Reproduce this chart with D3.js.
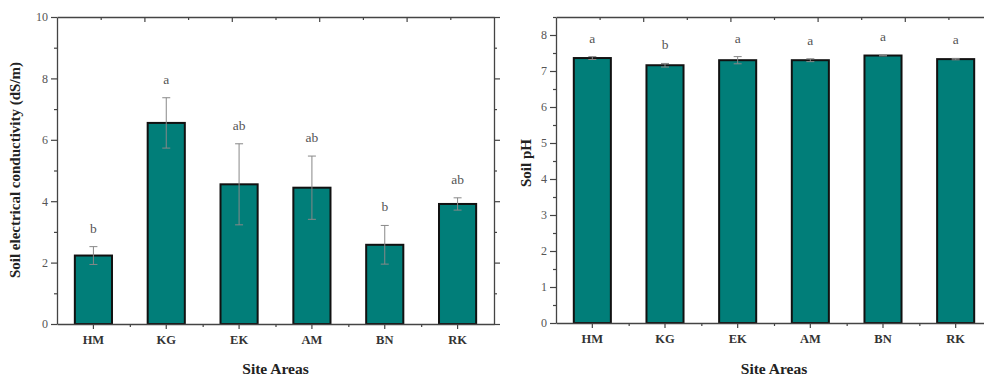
<html>
<head>
<script src="https://cdnjs.cloudflare.com/ajax/libs/d3/7.2.1/d3.min.js"></script>
<style>
  body { margin: 0; background: #fff; }
  text { font-family: "Liberation Serif", "Times New Roman", serif; }
</style>
</head>
<body>
<div class="chart"></div>
<script>
const width = 984;
const height = 377;

// data
const sites = ["HM", "KG", "EK", "AM", "BN", "RK"];
const ecMean = [2.23, 6.55, 4.55, 4.44, 2.58, 3.91];
const ecErr = [0.29, 0.82, 1.32, 1.03, 0.63, 0.2];
const ecLetters = ["b", "a", "ab", "ab", "b", "ab"];
const phMean = [7.36, 7.16, 7.30, 7.30, 7.43, 7.33];
const phErr = [0.04, 0.05, 0.1, 0.04, 0.01, 0.02];
const phLetters = ["a", "b", "a", "a", "a", "a"];
const ecTicks = [0, 2, 4, 6, 8, 10];
const phTicks = [0, 1, 2, 3, 4, 5, 6, 7, 8];

const svg = d3.select(".chart").append("svg")
  .attr("width", width).attr("height", height);

function drawPanel(opt) {
  const x = d3.scaleBand().domain(sites).range([opt.left, opt.right]).paddingInner(0.49).paddingOuter(0.245);
  const y = d3.scaleLinear().domain(opt.yDomain).range([opt.bottom, opt.top]);
  const g = svg.append("g");
  const cx = d => x(d) + x.bandwidth() / 2;

  // bars
  g.selectAll("rect.bar")
    .data(sites)
    .enter().append("rect")
    .attr("class", "bar")
    .attr("x", d => x(d))
    .attr("width", x.bandwidth())
    .attr("y", (d, i) => y(opt.mean[i]))
    .attr("height", (d, i) => y(0) - y(opt.mean[i]))
    .attr("fill", "#017e79")
    .attr("stroke", "#111")
    .attr("stroke-width", 2);

  // error bars
  const eb = g.selectAll("g.err").data(sites).enter().append("g")
    .attr("stroke", "#888").attr("stroke-width", 1);
  eb.append("line")
    .attr("x1", cx).attr("x2", cx)
    .attr("y1", (d, i) => y(opt.mean[i] - opt.err[i]))
    .attr("y2", (d, i) => y(opt.mean[i] + opt.err[i]));
  [1, -1].forEach(s => {
    eb.append("line")
      .attr("x1", d => cx(d) - 4).attr("x2", d => cx(d) + 4)
      .attr("y1", (d, i) => y(opt.mean[i] + s * opt.err[i]))
      .attr("y2", (d, i) => y(opt.mean[i] + s * opt.err[i]));
  });

  // significance letters
  g.selectAll("text.letter").data(sites).enter().append("text")
    .attr("x", cx)
    .attr("y", (d, i) => y(opt.mean[i] + opt.err[i]) - 14)
    .attr("text-anchor", "middle")
    .attr("font-size", 13.5)
    .attr("fill", "#555")
    .text((d, i) => opt.letters[i]);

  // left axis (major labelled, minor between)
  const minorY = d3.range(opt.yDomain[0], opt.yDomain[1] + 1e-9, opt.minorStep)
    .filter(v => !opt.ticks.some(t => Math.abs(t - v) < 1e-9));
  const left = g.append("g").attr("transform", `translate(${opt.left},0)`)
    .call(d3.axisLeft(y).tickValues(opt.ticks).tickSize(6).tickPadding(3).tickSizeOuter(0));
  left.append("g").attr("class", "minor")
    .call(d3.axisLeft(y).tickValues(minorY).tickSize(3).tickFormat(""));

  // right mirror axis
  const right = g.append("g").attr("transform", `translate(${opt.right},0)`)
    .call(d3.axisLeft(y).tickValues(opt.ticks).tickSize(-6).tickFormat("").tickSizeOuter(0));
  right.append("g").attr("class", "minor")
    .call(d3.axisLeft(y).tickValues(minorY).tickSize(-3).tickFormat(""));

  // bottom axis: categories with minor ticks at band edges
  const edges = d3.range(1, sites.length).map(i => opt.left + i * (opt.right - opt.left) / sites.length);
  const bottom = g.append("g").attr("transform", `translate(0,${opt.bottom})`)
    .call(d3.axisBottom(x).tickSize(5).tickPadding(6).tickSizeOuter(0));
  bottom.append("g").attr("class", "minor")
    .call(d3.axisBottom(d3.scaleIdentity()).tickValues(edges).tickSize(3).tickFormat(""));

  // top mirror axis, own linear scale
  const xt = d3.scaleLinear().domain([0, 5]).range([opt.left, opt.right]);
  const top = g.append("g").attr("transform", `translate(0,${opt.top})`)
    .call(d3.axisTop(xt).tickValues([1, 2, 3, 4]).tickSize(-5).tickFormat("").tickSizeOuter(0));
  top.append("g").attr("class", "minor")
    .call(d3.axisTop(xt).tickValues([0.5, 1.5, 2.5, 3.5, 4.5]).tickSize(-3).tickFormat(""));

  g.selectAll(".minor .domain").remove();
  g.selectAll(".domain").attr("stroke", "#444").attr("stroke-width", 1.3);
  g.selectAll(".tick line").attr("stroke", "#444").attr("stroke-width", 1.2);
  left.selectAll(".tick text").attr("font-size", 12).attr("fill", "#555")
    .style("font-family", "Liberation Serif");
  bottom.selectAll(".tick text").attr("font-size", 12.5).attr("font-weight", "bold").attr("fill", "#333")
    .style("font-family", "Liberation Serif");

  // axis titles
  g.append("text")
    .attr("transform", `translate(${opt.yLabelX},${opt.yLabelY}) rotate(-90)`)
    .attr("text-anchor", "middle")
    .attr("dominant-baseline", "middle")
    .attr("font-size", 15).attr("font-weight", "bold").attr("fill", "#222")
    .text(opt.yLabel);
  g.append("text")
    .attr("x", (opt.left + opt.right) / 2).attr("y", 374)
    .attr("text-anchor", "middle")
    .attr("font-size", 15.5).attr("font-weight", "bold").attr("fill", "#222")
    .text("Site Areas");
}

drawPanel({
  left: 57, right: 494, top: 17, bottom: 324,
  yDomain: [0, 10], ticks: ecTicks, minorStep: 1,
  mean: ecMean, err: ecErr, letters: ecLetters,
  yLabel: "Soil electrical conductivity (dS/m)", yLabelX: 17, yLabelY: 170
});

drawPanel({
  left: 556, right: 992, top: 17, bottom: 323,
  yDomain: [0, 8.5], ticks: phTicks, minorStep: 0.5,
  mean: phMean, err: phErr, letters: phLetters,
  yLabel: "Soil pH", yLabelX: 528, yLabelY: 163
});
</script>
</body>
</html>
